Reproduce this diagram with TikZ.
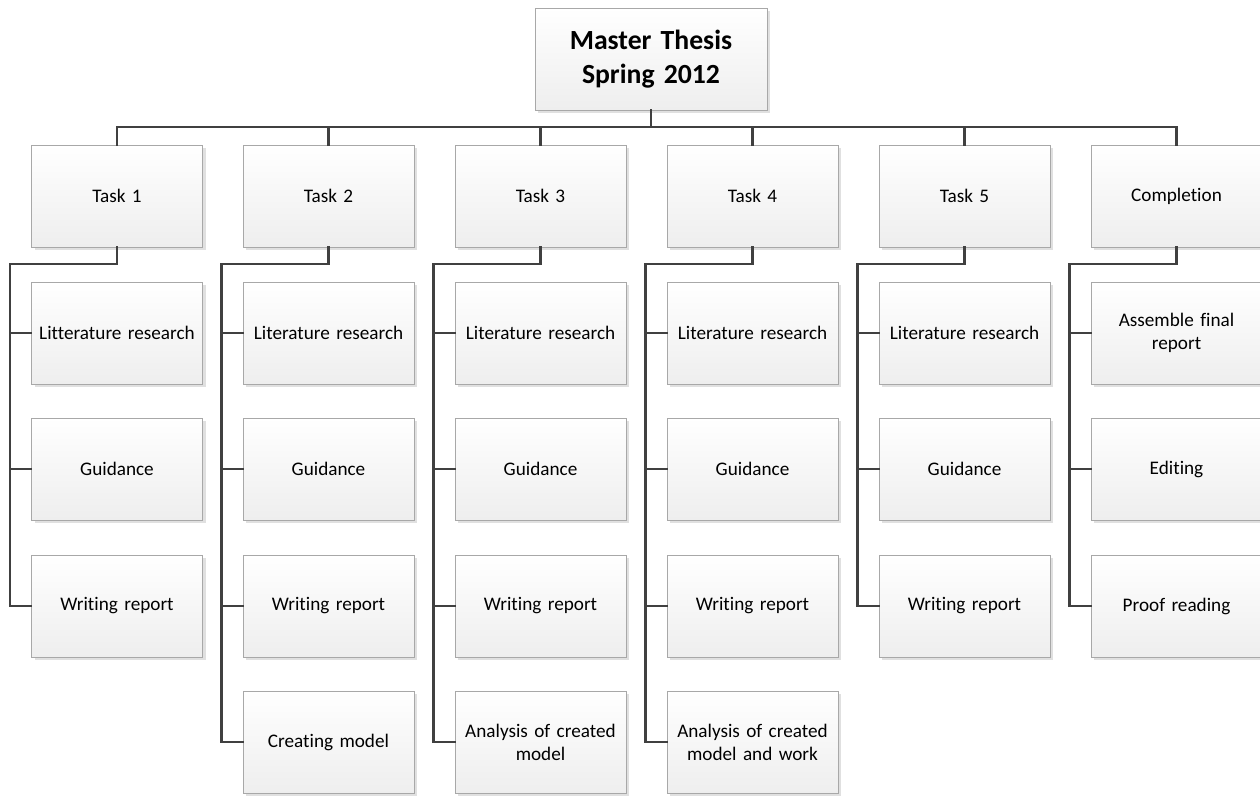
\documentclass[tikz,border=0pt]{standalone}
\usepackage{fontspec}
\setmainfont{Carlito}[Ligatures=NoCommon]
\usetikzlibrary{shadows}
\hyphenpenalty=10000
\exhyphenpenalty=10000
\definecolor{linkgray}{HTML}{404040}
\definecolor{framegray}{HTML}{A8A8A8}
\definecolor{fillbottom}{HTML}{EEEEEE}
\tikzset{
  card/.style={draw=framegray, line width=0.8pt, top color=white, bottom color=fillbottom,
    minimum width=171pt, minimum height=102pt, inner sep=0pt, text width=165pt,
    align=center, font=\fontsize{19.2pt}{23pt}\selectfont,
    drop shadow={shadow xshift=3pt, shadow yshift=-3pt, opacity=0.2, fill=black!60}},
  headcard/.style={card, minimum width=232pt, text width=220pt,
    font=\fontsize{27.7pt}{34pt}\selectfont\bfseries},
  link/.style={draw=linkgray, line width=2.4pt, line cap=rect}
}
\begin{document}
\begin{tikzpicture}[x=1pt,y=-1pt]
\useasboundingbox (0,0) rectangle (1260,796);
\fill[white] (0,0) rectangle (1260,796);

\node[headcard] (top) at (651,59) {Master Thesis\\Spring 2012};

% task row
\node[card] (t1) at (117,196) {Task 1};
\node[card] (t2) at (328.5,196) {Task 2};
\node[card] (t3) at (540.5,196) {Task 3};
\node[card] (t4) at (752.5,196) {Task 4};
\node[card] (t5) at (964.5,196) {Task 5};
\node[card] (t6) at (1176.5,196) {Completion};

% sub-tasks
\node[card] (a1) at (117,333) {Litterature research};
\node[card] (a2) at (117,469) {Guidance};
\node[card] (a3) at (117,606) {Writing report};

\node[card] (b1) at (328.5,333) {Literature research};
\node[card] (b2) at (328.5,469) {Guidance};
\node[card] (b3) at (328.5,606) {Writing report};
\node[card] (b4) at (328.5,742) {Creating model};

\node[card] (c1) at (540.5,333) {Literature research};
\node[card] (c2) at (540.5,469) {Guidance};
\node[card] (c3) at (540.5,606) {Writing report};
\node[card] (c4) at (540.5,742) {Analysis of created\\model};

\node[card] (d1) at (752.5,333) {Literature research};
\node[card] (d2) at (752.5,469) {Guidance};
\node[card] (d3) at (752.5,606) {Writing report};
\node[card] (d4) at (752.5,742) {Analysis of created\\model and work};

\node[card] (e1) at (964.5,333) {Literature research};
\node[card] (e2) at (964.5,469) {Guidance};
\node[card] (e3) at (964.5,606) {Writing report};

\node[card] (f1) at (1176.5,333) {Assemble final\\report};
\node[card] (f2) at (1176.5,469) {Editing};
\node[card] (f3) at (1176.5,606) {Proof reading};

% top-level bus
\coordinate (bus) at (651,127);
\draw[link] (top.south) -- (bus);
\draw[link] (t1.north) |- (bus) -| (t6.north);
\foreach \t in {t2,t3,t4,t5}
  \draw[link] (\t.north) -- (\t.north |- bus);

% branch spines
\foreach \t/\last/\items in {
  t1/a3/{a1,a2,a3},
  t2/b4/{b1,b2,b3,b4},
  t3/c4/{c1,c2,c3,c4},
  t4/d4/{d1,d2,d3,d4},
  t5/e3/{e1,e2,e3},
  t6/f3/{f1,f2,f3}} {
  \coordinate (sp-\t) at ([xshift=-21pt]\t.west |- 0,264);
  \draw[link] (\t.south) |- (sp-\t) -- (sp-\t |- \last.west) -- (\last.west);
  \foreach \c in \items
    \draw[link] (sp-\t |- \c.west) -- (\c.west);
}
\end{tikzpicture}
\end{document}
